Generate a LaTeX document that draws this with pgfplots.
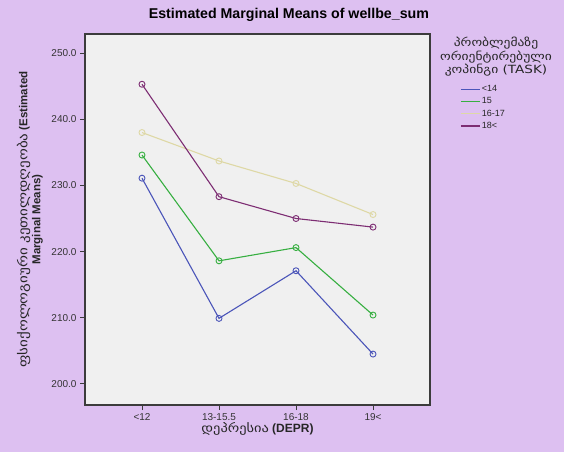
\documentclass[border=0pt]{standalone}
\usepackage{fontspec}
\setmainfont{Liberation Sans}
\newfontfamily\geo[FakeStretch=1.2]{DejaVu Sans}
\usepackage{pgfplots}
\pgfplotsset{compat=1.18}

\definecolor{bgpurple}{RGB}{221,192,241}
\definecolor{plotbg}{RGB}{240,240,240}
\definecolor{cBlue}{RGB}{75,85,185}
\definecolor{cGreen}{RGB}{55,175,65}
\definecolor{cBeige}{RGB}{222,216,165}
\definecolor{cPurple}{RGB}{125,45,115}
\definecolor{frame}{RGB}{60,60,60}

\begin{document}
\begin{tikzpicture}[x=1pt,y=1pt]
% chart background
\fill[bgpurple] (0,0) rectangle (564,452);
\begin{axis}[
  at={(85pt,47pt)}, anchor=south west,
  scale only axis, width=345pt, height=371pt,
  xmin=-0.74, xmax=3.74, ymin=196.8, ymax=252.9,
  axis background/.style={fill=plotbg},
  axis line style={draw=frame, line width=1.2pt},
  xtick={0,1,2,3},
  xticklabels={<12,13-15.5,16-18,19<},
  ytick={200,210,...,250},
  tick align=outside, major tick length=5pt,
  xtick pos=bottom, ytick pos=left,
  tick style={draw=frame, line width=0.8pt},
  /pgf/number format/assume math mode=true,
  yticklabel style={/pgf/number format/.cd, fixed, fixed zerofill, precision=1},
  ticklabel style={font=\fontsize{10}{12}\selectfont, text=black!80},
  title={Estimated Marginal Means of wellbe\_sum},
  title style={at={(0.591,1.026)}, anchor=base, font=\bfseries\fontsize{14.2}{16}\selectfont},
  xlabel={{\geo\mdseries დეპრესია} (DEPR)},
  xlabel style={at={(axis description cs:0.5,-0.064)}, anchor=center, font=\bfseries\fontsize{12}{14}\selectfont, text=black!85},
  ylabel={{\geo\mdseries\fontsize{12.5}{14}\selectfont ფსიქოლოგიური კეთილდღეობა} (Estimated\\Marginal Means)},
  ylabel style={at={(axis description cs:-0.16,0.5)}, anchor=center, align=center, font=\bfseries\fontsize{11.5}{13}\selectfont, text=black!85},
  legend style={at={(1.087,0.866)}, anchor=north west, draw=none, fill=none,
    font=\fontsize{9}{10}\selectfont, row sep=1.5pt, inner sep=0pt,
    nodes={inner sep=1.5pt, text=black!85}},
  legend cell align=left,
  legend image code/.code={\draw[#1] (0pt,0pt) -- (19pt,0pt);},
  every axis plot/.append style={line width=1.1pt, mark=o, mark size=3pt, mark options={solid, line width=0.9pt}},
]
\addplot[cBlue] coordinates {(0,231.1) (1,209.9) (2,217.1) (3,204.5)};
\addlegendentry{<14}
\addplot[cGreen] coordinates {(0,234.6) (1,218.6) (2,220.6) (3,210.4)};
\addlegendentry{15}
\addplot[cBeige] coordinates {(0,238.0) (1,233.7) (2,230.3) (3,225.6)};
\addlegendentry{16-17}
\addplot[cPurple] coordinates {(0,245.3) (1,228.3) (2,225.0) (3,223.7)};
\addlegendentry{18<}
\end{axis}
% legend heading
\node[align=center, font=\geo\fontsize{11.3}{13.5}\selectfont, text=black!85] at (496,395)
  {პრობლემაზე\\ორიენტირებული\\კოპინგი (TASK)};
\end{tikzpicture}
\end{document}
